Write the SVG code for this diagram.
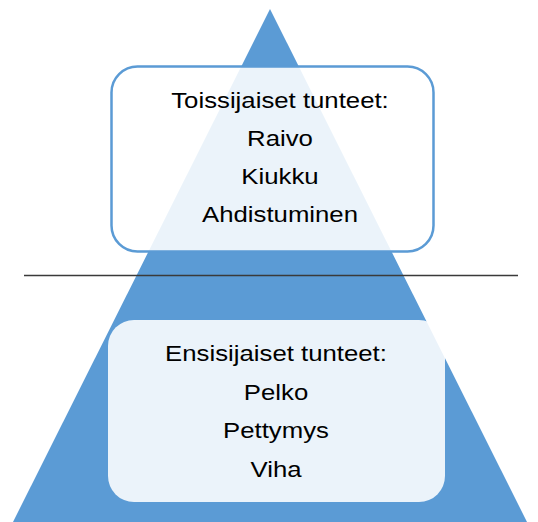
<svg xmlns="http://www.w3.org/2000/svg" width="538" height="522" viewBox="0 0 538 522">
<style>
.t{font-family:"Liberation Sans",Arial,sans-serif;font-size:23px;fill:#000;text-anchor:middle}
.box{fill:#fff;fill-opacity:0.88}
</style>
<rect width="538" height="522" fill="#fff"/>
<g id="pyramid"><polygon points="270,9 13,522 527,522" fill="#5B9BD5"/></g>
<g id="connectors"><line x1="24" y1="275.5" x2="518" y2="275.5" stroke="#3a3a3a" stroke-width="1.5"/></g>
<g id="upper">
<rect class="box" x="111.5" y="66.5" width="322" height="185" rx="26" stroke="#5B9BD5" stroke-width="2.5"/>
<g transform="translate(280,0) scale(1.12,1)">
<text class="t" x="0" y="108">Toissijaiset tunteet:</text>
<text class="t" x="0" y="146">Raivo</text>
<text class="t" x="0" y="184">Kiukku</text>
<text class="t" x="0" y="222">Ahdistuminen</text>
</g>
</g>
<g id="lower">
<rect class="box" x="108" y="320" width="337" height="182" rx="26"/>
<g transform="translate(276,0) scale(1.12,1)">
<text class="t" x="0" y="361.5">Ensisijaiset tunteet:</text>
<text class="t" x="0" y="400">Pelko</text>
<text class="t" x="0" y="438.5">Pettymys</text>
<text class="t" x="0" y="477">Viha</text>
</g>
</g>
</svg>
